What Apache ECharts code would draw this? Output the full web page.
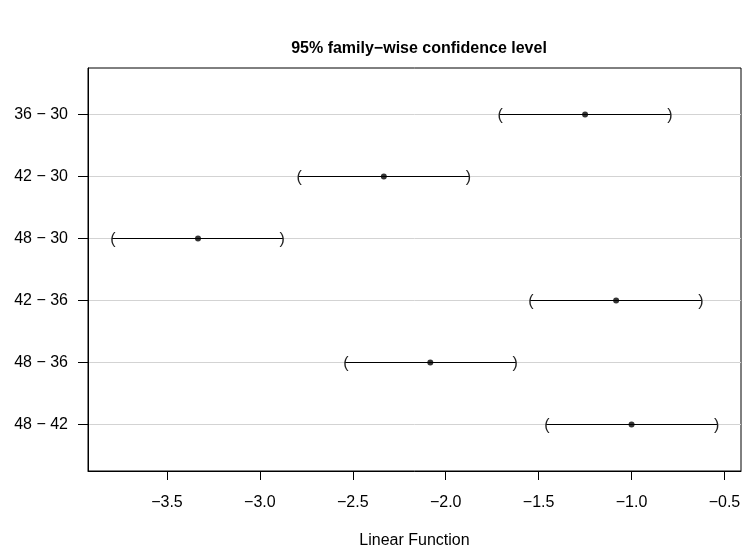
<!DOCTYPE html>
<html>
<head>
<meta charset="utf-8">
<script src="https://cdn.jsdelivr.net/npm/echarts@6/dist/echarts.min.js"></script>
<style>html,body{margin:0;padding:0;background:#fff;}#c{width:742px;height:548px;}</style>
</head>
<body>
<div id="c"></div>
<script>
const comparisons = ['36 \u2212 30', '42 \u2212 30', '48 \u2212 30', '42 \u2212 36', '48 \u2212 36', '48 \u2212 42'];
const estimate = [-1.250, -2.333, -3.333, -1.083, -2.083, -1.000];
const lower = [-1.712, -2.794, -3.796, -1.547, -2.543, -1.461];
const upper = [-0.788, -1.872, -2.875, -0.621, -1.621, -0.537];
const xTicks = [-3.5, -3.0, -2.5, -2.0, -1.5, -1.0, -0.5];
const rows = comparisons.map((c, i) => i + 1);

const FONT = '"Liberation Sans", Arial, Helvetica, sans-serif';
const chart = echarts.init(document.getElementById('c'), null, {renderer: 'canvas'});

const intervalData = rows.map((r, i) => [r, lower[i], upper[i]]);
const pointData = rows.map((r, i) => [estimate[i], r]);

chart.setOption({
  animation: false,
  backgroundColor: '#fff',
  title: {
    text: '95% family\u2212wise confidence level',
    left: 414, top: 36, textAlign: 'center',
    textStyle: {fontFamily: FONT, fontSize: 16, fontWeight: 'bold', color: '#000'}
  },
  grid: {left: 88, right: 1, top: 68, bottom: 77, show: true, borderColor: '#000', borderWidth: 1,
         containLabel: false, outerBoundsMode: 'none'},
  xAxis: {
    type: 'value', min: -3.925, max: -0.411,
    name: 'Linear Function', nameLocation: 'middle', nameGap: 62,
    nameTextStyle: {fontFamily: FONT, fontSize: 16, color: '#000'},
    axisLine: {show: true, lineStyle: {color: '#000', width: 1}},
    axisTick: {show: true, inside: false, length: 9, customValues: xTicks, lineStyle: {color: '#000', width: 1}},
    axisLabel: {
      customValues: xTicks, margin: 24, fontFamily: FONT, fontSize: 16, color: '#000',
      formatter: v => (v < 0 ? '\u2212' : '') + Math.abs(v).toFixed(1)
    },
    splitLine: {show: false}
  },
  yAxis: {
    type: 'value', min: 0.25, max: 6.75, inverse: true,
    axisLine: {show: true, lineStyle: {color: '#000', width: 1}},
    axisTick: {show: true, length: 10, customValues: rows, lineStyle: {color: '#000', width: 1}},
    axisLabel: {
      customValues: rows, margin: 20, fontFamily: FONT, fontSize: 16, color: '#000',
      formatter: v => comparisons[Math.round(v) - 1] || ''
    },
    splitLine: {show: true, lineStyle: {color: '#d3d3d3', width: 1}}
  },
  series: [
    {
      type: 'custom',
      data: intervalData,
      encode: {x: [1, 2], y: 0},
      renderItem: function (params, api) {
        const y = api.value(0), lo = api.value(1), hi = api.value(2);
        const p1 = api.coord([lo, y]);
        const p2 = api.coord([hi, y]);
        return {
          type: 'group',
          children: [
            {type: 'line', shape: {x1: p1[0], y1: p1[1], x2: p2[0], y2: p2[1]}, style: {stroke: '#000', lineWidth: 1.2}},
            {type: 'text', x: p1[0] + 1, y: p1[1] + 1, style: {text: '(', fontSize: 16, fontFamily: FONT, fill: '#222', align: 'center', verticalAlign: 'middle'}},
            {type: 'text', x: p2[0] - 1, y: p2[1] + 1, style: {text: ')', fontSize: 16, fontFamily: FONT, fill: '#222', align: 'center', verticalAlign: 'middle'}}
          ]
        };
      },
      z: 3
    },
    {
      type: 'scatter',
      data: pointData,
      symbol: 'circle', symbolSize: 6,
      itemStyle: {color: '#000'},
      z: 4
    }
  ]
});
</script>
</body>
</html>
